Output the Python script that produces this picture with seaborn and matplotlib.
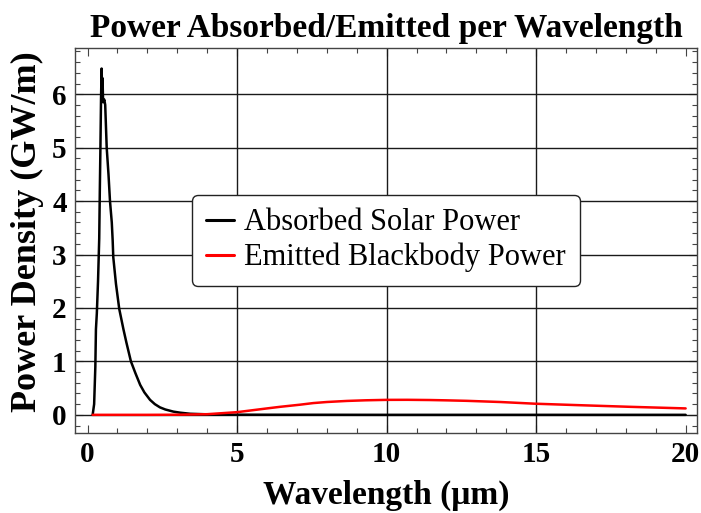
import numpy as np
import pandas as pd
import matplotlib
matplotlib.use("Agg")
import matplotlib.pyplot as plt
import seaborn as sns
from matplotlib.ticker import MultipleLocator

# Absorbed solar power (GW/m) vs wavelength (um)
solar_wl = [0.17, 0.22, 0.26, 0.28, 0.31, 0.35, 0.39, 0.41, 0.43, 0.45, 0.47,
            0.49, 0.50, 0.52, 0.56, 0.59, 0.64, 0.70, 0.75, 0.81, 0.84, 0.86,
            0.95, 1.06, 1.20, 1.30, 1.45, 1.60, 1.76, 1.90, 2.09, 2.25, 2.42,
            2.60, 2.87, 3.10, 3.43, 3.98, 4.50, 5.0, 6.0, 8.0, 10.0, 12.0,
            15.0, 20.0]
solar_pw = [0.0, 0.2, 0.9, 1.6, 1.9, 2.5, 3.3, 4.2, 5.0, 5.9, 6.48,
            6.0, 6.3, 5.85, 5.9, 5.8, 5.0, 4.5, 4.0, 3.6, 3.26, 2.95,
            2.45, 1.98, 1.6, 1.35, 1.0, 0.78, 0.56, 0.42, 0.28, 0.2, 0.14,
            0.1, 0.06, 0.04, 0.02, 0.01, 0.005, 0.003, 0.002, 0.001, 0.0, 0.0,
            0.0, 0.0]

# Emitted blackbody power (GW/m) vs wavelength (um)
bb_wl = [0.17, 1.0, 2.0, 3.0, 4.0, 5.0, 6.0, 6.44, 7.11, 7.55, 8.0, 8.67,
         9.3, 10.0, 10.7, 11.45, 12.0, 12.68, 13.8, 14.97, 16.47, 18.14, 20.0]
bb_pw = [0.0, 0.0, 0.0, 0.002, 0.012, 0.05, 0.12, 0.15, 0.19, 0.22, 0.24,
         0.26, 0.272, 0.28, 0.281, 0.277, 0.271, 0.262, 0.24, 0.208, 0.18,
         0.15, 0.12]

series_names = ["Absorbed Solar Power", "Emitted Blackbody Power"]
series_colors = ["#000000", "#ff0000"]

df = pd.concat([
    pd.DataFrame({"wl": solar_wl, "pw": solar_pw, "series": series_names[0]}),
    pd.DataFrame({"wl": bb_wl, "pw": bb_pw, "series": series_names[1]}),
], ignore_index=True)

sns.set_style("ticks")
plt.rcParams["font.family"] = ["Liberation Serif", "DejaVu Serif"]
plt.rcParams["text.color"] = "black"
plt.rcParams["axes.labelcolor"] = "black"
plt.rcParams["xtick.labelcolor"] = "black"
plt.rcParams["ytick.labelcolor"] = "black"

fig = plt.figure(figsize=(7.01, 5.13), dpi=100)
ax = fig.add_axes([75 / 701, 1 - 433 / 513, 622 / 701, 385.3 / 513])

# grid lines drawn beneath the curves
for yv in range(0, 7):
    ax.axhline(yv, color="#1a1a1a", lw=1.0, zorder=1)
for xv in (5, 10, 15):
    ax.axvline(xv, color="#1a1a1a", lw=1.0, zorder=1)

sns.lineplot(data=df, x="wl", y="pw", hue="series", hue_order=series_names,
             palette=series_colors, linewidth=1.8, estimator=None, sort=True,
             ax=ax, zorder=3)

ax.set_xlim(-0.42, 20.38)
ax.set_ylim(-0.34, 6.87)

ax.xaxis.set_major_locator(MultipleLocator(5))
ax.xaxis.set_minor_locator(MultipleLocator(1))
ax.yaxis.set_major_locator(MultipleLocator(1))
ax.yaxis.set_minor_locator(MultipleLocator(0.2))
ax.tick_params(which="both", direction="in", top=True, right=True,
               color="#444444", width=0.8)
ax.tick_params(which="major", length=6, labelsize=21, pad=6)
ax.tick_params(which="minor", length=3.5)
for lab in ax.get_xticklabels() + ax.get_yticklabels():
    lab.set_fontweight("bold")

for sp in ax.spines.values():
    sp.set_color("#444444")
    sp.set_linewidth(1.0)

ax.set_xlabel("Wavelength (\u03bcm)", fontsize=24, fontweight="bold", labelpad=8)
ax.set_ylabel("Power Density (GW/m)", fontsize=26, fontweight="bold")
ax.yaxis.set_label_coords(-0.05, 0.522)
ax.set_title("Power Absorbed/Emitted per Wavelength", fontsize=24,
             fontweight="bold", pad=8)

leg = ax.legend(loc="center", fontsize=22, frameon=True, fancybox=True,
                handlelength=0.9, handletextpad=0.35, borderpad=0.45,
                labelspacing=0.18, borderaxespad=0, framealpha=1.0,
                edgecolor="#222222")
leg.get_frame().set_linewidth(1.0)
for h in leg.get_lines():
    h.set_linewidth(2.2)

fig.savefig("out.png", dpi=100)
